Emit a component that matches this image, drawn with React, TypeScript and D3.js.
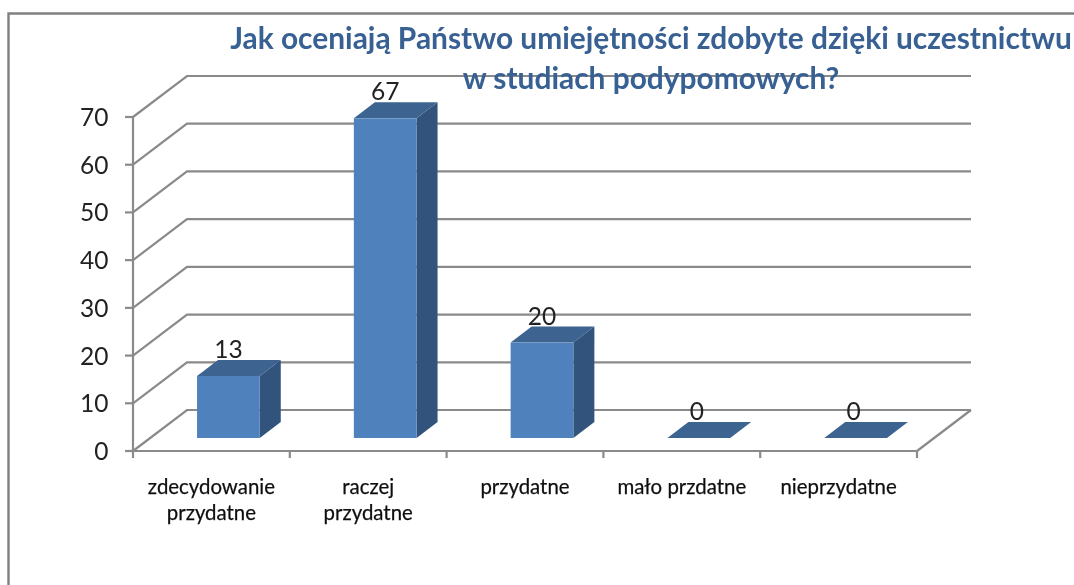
import React from "react";
import * as d3 from "d3";

const categories = ["zdecydowanie przydatne", "raczej przydatne", "przydatne", "mało przdatne", "nieprzydatne"];
const categoryLines = [["zdecydowanie", "przydatne"], ["raczej", "przydatne"], ["przydatne"], ["mało przdatne"], ["nieprzydatne"]];
const values = [13, 67, 20, 0, 0];
const yTicks = [0, 10, 20, 30, 40, 50, 60, 70];
const titleLines = ["Jak oceniają Państwo umiejętności zdobyte dzięki uczestnictwu", "w studiach podypomowych?"];

const W = 1074, H = 585;
const axisX0 = 133, axisX1 = 917, y0 = 451, y70 = 117;
const depthX = 54, depthY = 41;
const barDX = 17, barDY = 13;
const topDX = 21, topDY = 16;
const grid = "#8a8a8a";
const font = "Lato, sans-serif";

export default function App() {
  const x = d3.scaleBand<string>().domain(categories).range([axisX0, axisX1]);
  const barX = d3.scaleBand<string>().domain(categories)
    .range([axisX0 + barDX, axisX1 + barDX]).paddingInner(0.6).paddingOuter(0.3);
  const y = d3.scaleLinear().domain([0, 70]).range([y0, y70]);
  const line = d3.line();
  const poly = (pts: [number, number][]) => line(pts)! + "Z";
  const tickXs = [...categories.map((c) => x(c)!), axisX1];

  return (
    <svg width={W} height={H} viewBox={`0 0 ${W} ${H}`}
      style={{ position: "absolute", left: 0, top: 0, background: "#fff" }}>
      <defs>
        <filter id="soft" x="0" y="0" width="100%" height="100%">
          <feGaussianBlur stdDeviation="0.6" />
        </filter>
      </defs>
      <g filter="url(#soft)">
        <rect width={W} height={H} fill="#fff" />
        <path d={`M8.5,${H}V13.5H${W}`} fill="none" stroke="#808080" strokeWidth={2.4} />
        {yTicks.map((t) => (
          <g key={t}>
            <path
              d={line([[axisX0, y(t)], [axisX0 + depthX, y(t) - depthY], [axisX1 + depthX, y(t) - depthY]])!}
              fill="none" stroke={grid} strokeWidth={2.2} />
            <line x1={axisX0 - 8} x2={axisX0} y1={y(t)} y2={y(t)} stroke={grid} strokeWidth={2.2} />
            <text x={108.5} y={y(t) + 9} textAnchor="end" fontFamily={font} fontSize={24.5} fill="#222">{t}</text>
          </g>
        ))}
        <line x1={axisX0} x2={axisX0} y1={y70} y2={y0} stroke={grid} strokeWidth={2.2} />
        <line x1={axisX0 - 1} x2={axisX1} y1={y0} y2={y0} stroke={grid} strokeWidth={2.2} />
        <line x1={axisX1} x2={axisX1 + depthX} y1={y0} y2={y0 - depthY} stroke={grid} strokeWidth={2.2} />
        {tickXs.map((tx, i) => (
          <line key={i} x1={tx} x2={tx} y1={y0} y2={y0 + 7} stroke={grid} strokeWidth={2.2} />
        ))}
        {categories.map((c, i) => {
          const v = values[i];
          const bx = barX(c)!, bw = barX.bandwidth();
          const base = y0 - barDY;
          const top = base - (y0 - y(v));
          return (
            <g key={c}>
              {v > 0 && <path d={poly([[bx + bw, top], [bx + bw + topDX, top - topDY], [bx + bw + topDX, base - topDY], [bx + bw, base]])} fill="#30527c" />}
              <path d={poly([[bx, top], [bx + topDX, top - topDY], [bx + bw + topDX, top - topDY], [bx + bw, top]])} fill="#3c6391" />
              {v > 0 && <rect x={bx} y={top} width={bw} height={base - top} fill="#4f81bd" />}
              <text x={bx + bw / 2 - (v > 0 ? 0 : 2)} y={top - 18} textAnchor="middle" fontFamily={font} fontSize={24.5} fill="#222">{v}</text>
            </g>
          );
        })}
        {categories.map((c, i) => (
          <text key={c} textAnchor="middle" fontFamily={font} fontSize={20.4} stroke="#111" strokeWidth={0.25} fill="#111">
            {categoryLines[i].map((l, j) => (
              <tspan key={j} x={x(c)! + x.bandwidth() / 2} y={494 + j * 26}>{l}</tspan>
            ))}
          </text>
        ))}
        {titleLines.map((t, i) => (
          <text key={i} x={651} y={49 + i * 40} textAnchor="middle" fontFamily={font} fontWeight={700} fontSize={29.9} fill="#376092">{t}</text>
        ))}
      </g>
    </svg>
  );
}
